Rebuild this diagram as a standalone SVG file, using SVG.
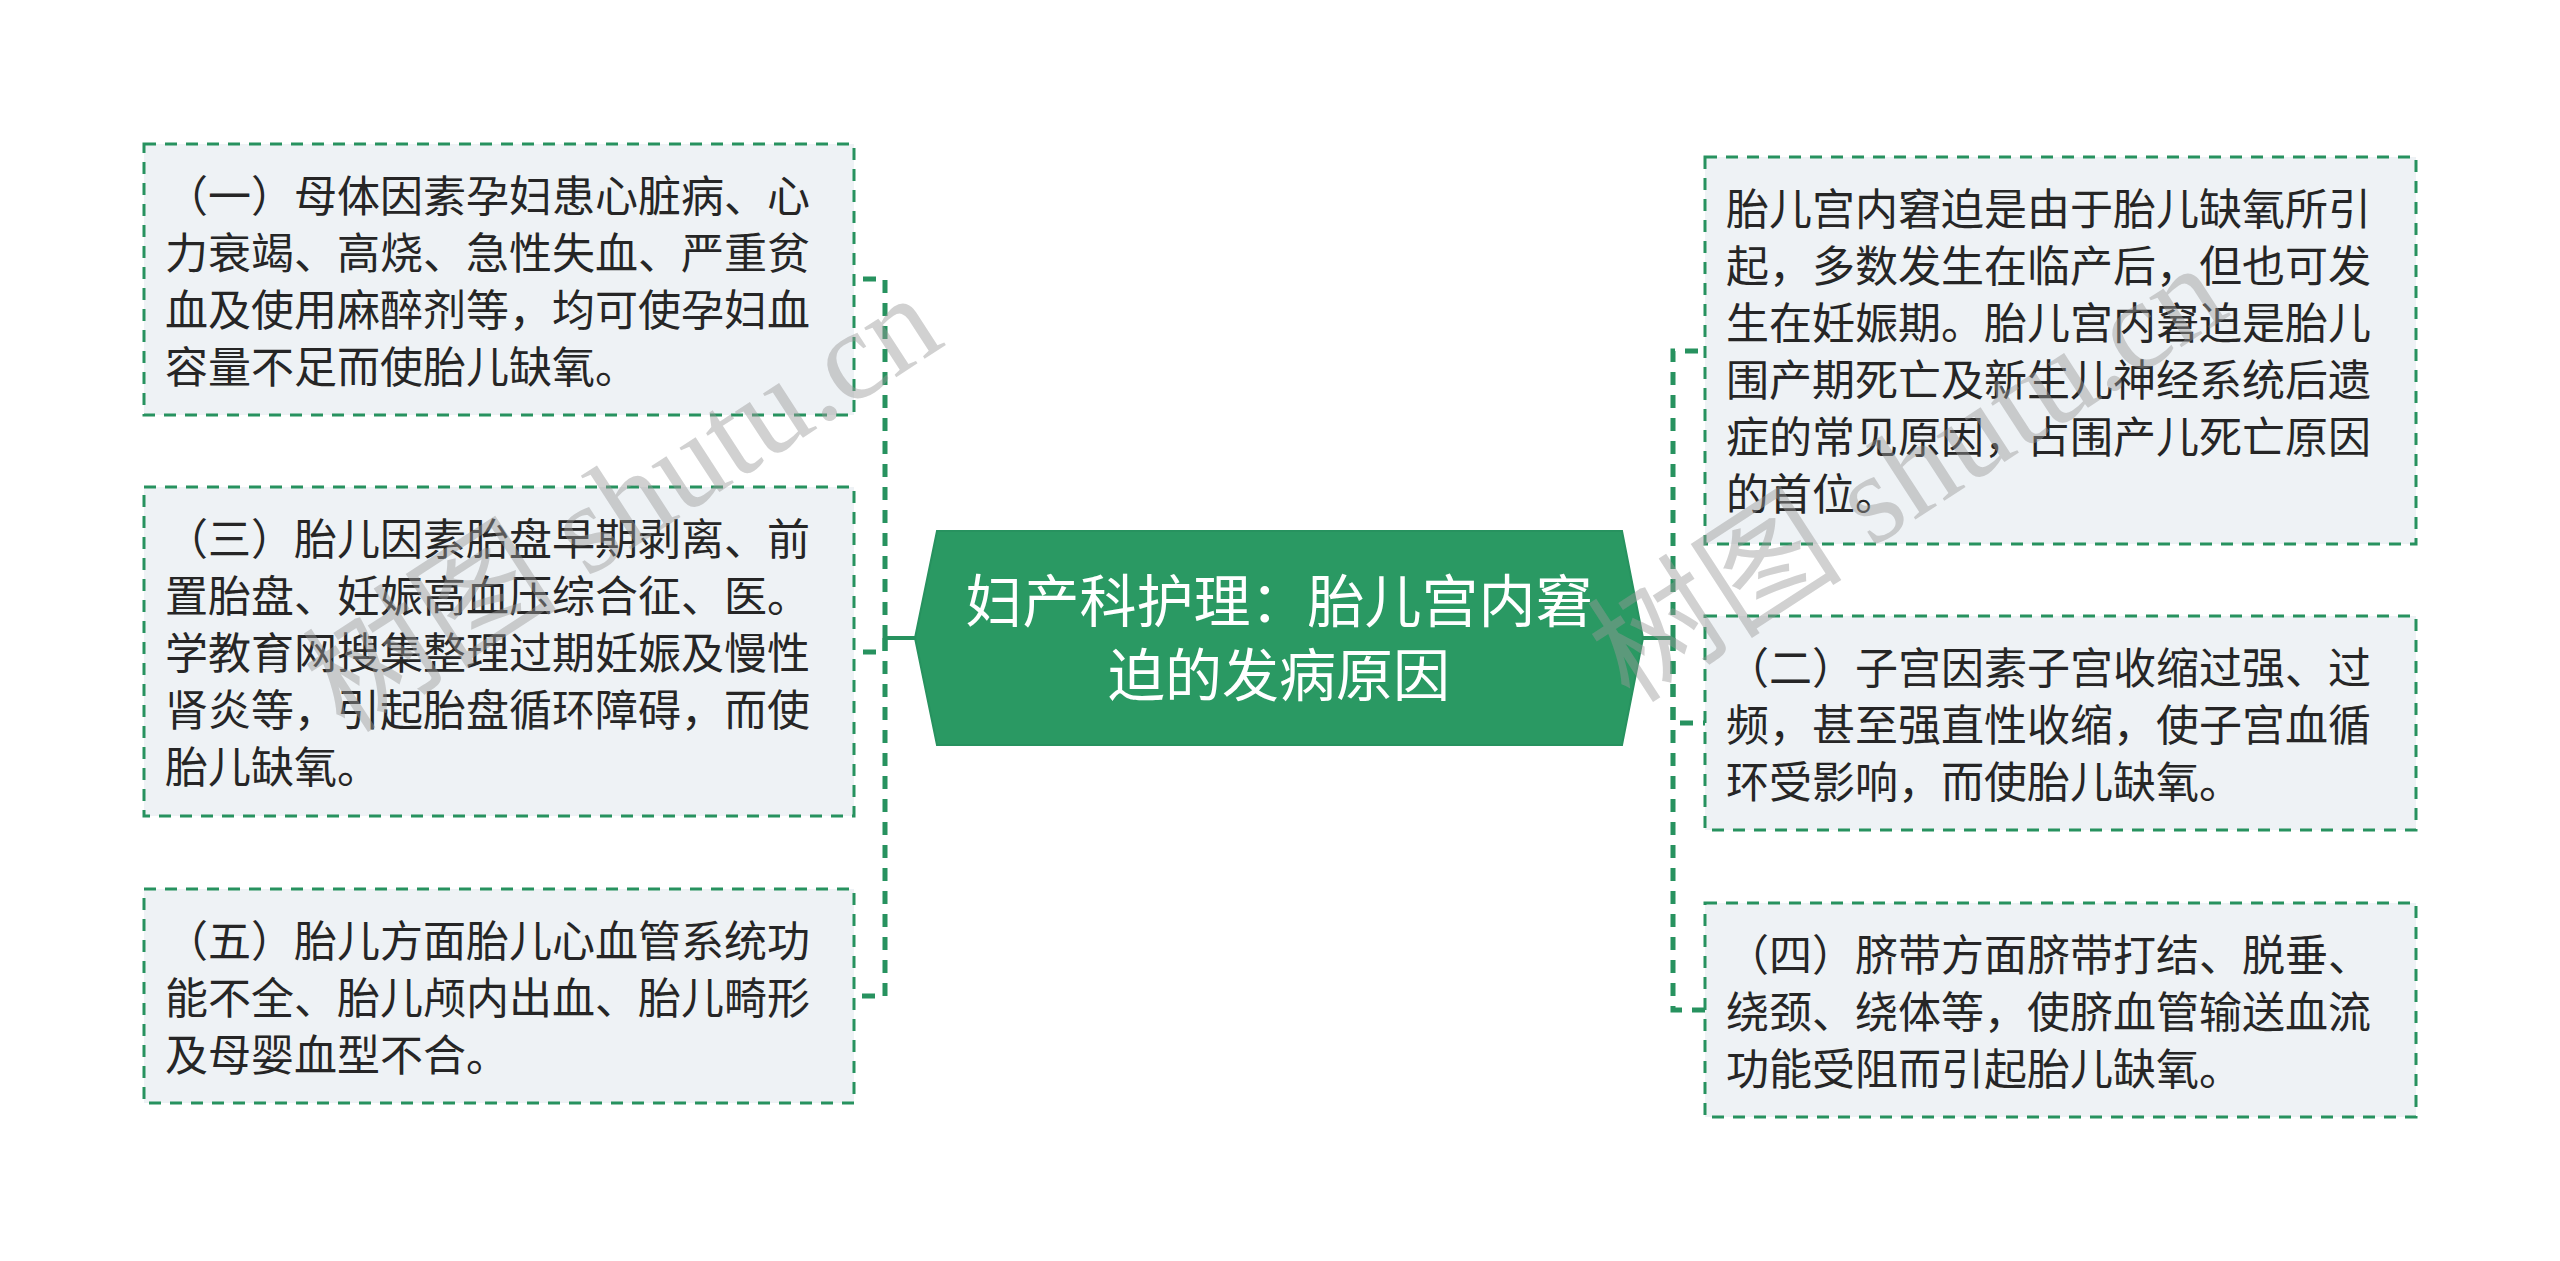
<svg xmlns="http://www.w3.org/2000/svg" width="2560" height="1261" viewBox="0 0 2560 1261">
<style>
.bg{fill:#ffffff}
.box{fill:#eef2f5;stroke:#27925f;stroke-width:3;stroke-dasharray:12 9}
.txt{font-family:"Noto Sans CJK SC","Noto Sans",sans-serif;font-size:43px;fill:#262626}
.ctr{fill:#2a9963;stroke:#27925f;stroke-width:2}
.ctxt{font-family:"Noto Sans CJK SC","Noto Sans",sans-serif;font-size:57px;fill:#ffffff;text-anchor:middle}
.conn{fill:none;stroke:#27925f;stroke-width:5;stroke-dasharray:13 10}
.stub{fill:none;stroke:#27925f;stroke-width:4}
.wm{font-family:"Liberation Serif","Noto Sans CJK SC",serif;font-size:128px;fill:#9a9a9a;fill-opacity:0.45}
</style>
<rect class="bg" x="0" y="0" width="2560" height="1261"/>
<g id="connectors">
<path class="stub" d="M915,638 H885"/>
<path class="conn" d="M885,638 V279 H854"/>
<path class="conn" d="M885,638 V652 H854"/>
<path class="conn" d="M885,638 V996 H854"/>
<path class="stub" d="M1643,638 H1673"/>
<path class="conn" d="M1673,638 V351 H1705"/>
<path class="conn" d="M1673,638 V723 H1705"/>
<path class="conn" d="M1673,638 V1010 H1705"/>
</g>
<g id="center">
<polygon class="ctr" points="915,638 937,531 1622,531 1643,638 1622,745 937,745"/>
<text class="ctxt" x="1279" y="622">妇产科护理：胎儿宫内窘</text>
<text class="ctxt" x="1279" y="696">迫的发病原因</text>
</g>
<g id="node1">
<rect class="box" x="144" y="144" width="710" height="271"/>
<text class="txt" x="165" y="212">（一）母体因素孕妇患心脏病、心</text>
<text class="txt" x="165" y="269">力衰竭、高烧、急性失血、严重贫</text>
<text class="txt" x="165" y="326">血及使用麻醉剂等，均可使孕妇血</text>
<text class="txt" x="165" y="383">容量不足而使胎儿缺氧。</text>
</g>
<g id="node3">
<rect class="box" x="144" y="487" width="710" height="329"/>
<text class="txt" x="165" y="555">（三）胎儿因素胎盘早期剥离、前</text>
<text class="txt" x="165" y="612">置胎盘、妊娠高血压综合征、医。</text>
<text class="txt" x="165" y="669">学教育网搜集整理过期妊娠及慢性</text>
<text class="txt" x="165" y="726">肾炎等，引起胎盘循环障碍，而使</text>
<text class="txt" x="165" y="783">胎儿缺氧。</text>
</g>
<g id="node5">
<rect class="box" x="144" y="889" width="710" height="214"/>
<text class="txt" x="165" y="957">（五）胎儿方面胎儿心血管系统功</text>
<text class="txt" x="165" y="1014">能不全、胎儿颅内出血、胎儿畸形</text>
<text class="txt" x="165" y="1071">及母婴血型不合。</text>
</g>
<g id="nodeR1">
<rect class="box" x="1705" y="157" width="711" height="387"/>
<text class="txt" x="1726" y="225">胎儿宫内窘迫是由于胎儿缺氧所引</text>
<text class="txt" x="1726" y="282">起，多数发生在临产后，但也可发</text>
<text class="txt" x="1726" y="339">生在妊娠期。胎儿宫内窘迫是胎儿</text>
<text class="txt" x="1726" y="396">围产期死亡及新生儿神经系统后遗</text>
<text class="txt" x="1726" y="453">症的常见原因，占围产儿死亡原因</text>
<text class="txt" x="1726" y="510">的首位。</text>
</g>
<g id="node2">
<rect class="box" x="1705" y="616" width="711" height="214"/>
<text class="txt" x="1726" y="684">（二）子宫因素子宫收缩过强、过</text>
<text class="txt" x="1726" y="741">频，甚至强直性收缩，使子宫血循</text>
<text class="txt" x="1726" y="798">环受影响，而使胎儿缺氧。</text>
</g>
<g id="node4">
<rect class="box" x="1705" y="903" width="711" height="214"/>
<text class="txt" x="1726" y="971">（四）脐带方面脐带打结、脱垂、</text>
<text class="txt" x="1726" y="1028">绕颈、绕体等，使脐血管输送血流</text>
<text class="txt" x="1726" y="1085">功能受阻而引起胎儿缺氧。</text>
</g>
<g id="watermark">
<text class="wm" transform="translate(345,735) rotate(-33)">树图 shutu.cn</text>
<text class="wm" transform="translate(1630,705) rotate(-33)">树图 shutu.cn</text>
</g>
</svg>
